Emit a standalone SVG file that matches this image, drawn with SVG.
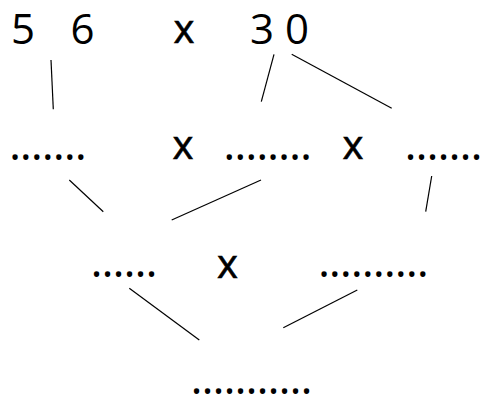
<svg xmlns="http://www.w3.org/2000/svg" width="483" height="399" viewBox="0 0 483 399">
<style>
text{font-family:"Open Sans","DejaVu Sans",sans-serif;fill:#000}
.d{font-size:42px;text-anchor:middle}
.x{font-size:40px;text-anchor:middle;stroke:#000;stroke-width:0.6px}
.p{font-size:46px;letter-spacing:-1.1px}
.c line{stroke:#000;stroke-width:1.2}
</style>
<rect width="483" height="399" fill="#fff"/>
<g id="n-56"><text class="d"><tspan x="23" y="43.5">5</tspan><tspan x="82.5" y="43.5">6</tspan></text></g>
<g id="n-x1"><text class="x" x="184" y="42.5">x</text></g>
<g id="n-30"><text class="d"><tspan x="262" y="43.5">3</tspan><tspan x="297" y="43.5">0</tspan></text></g>
<g id="n-r2a"><text class="p" x="8.9" y="159.5">.......</text></g>
<g id="n-x2"><text class="x" x="183" y="158.5">x</text></g>
<g id="n-r2b"><text class="p" x="223.2" y="159.5">........</text></g>
<g id="n-x3"><text class="x" x="353" y="158.5">x</text></g>
<g id="n-r2c"><text class="p" x="404.6" y="159.5">.......</text></g>
<g id="n-r3a"><text class="p" x="90.6" y="276.5">......</text></g>
<g id="n-x4"><text class="x" x="227.5" y="277.5">x</text></g>
<g id="n-r3b"><text class="p" x="317.9" y="276.5">..........</text></g>
<g id="n-r4"><text class="p" x="190.6" y="394">...........</text></g>
<g id="connectors" class="c">
<line x1="51" y1="60" x2="53.3" y2="109.3"/>
<line x1="274" y1="54.3" x2="261.3" y2="101.7"/>
<line x1="291.7" y1="54.3" x2="391.7" y2="108.3"/>
<line x1="69.3" y1="180" x2="103.3" y2="211.7"/>
<line x1="261" y1="180" x2="171.7" y2="220"/>
<line x1="431.7" y1="176" x2="425.7" y2="211.7"/>
<line x1="129.3" y1="288.3" x2="199.3" y2="340"/>
<line x1="357.3" y1="290" x2="283.3" y2="327.7"/>
</g>
</svg>
